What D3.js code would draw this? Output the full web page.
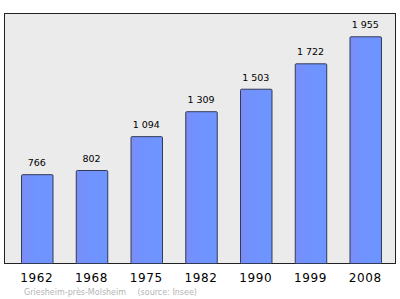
<!DOCTYPE html>
<html>
<head>
<meta charset="utf-8">
<script src="https://cdn.jsdelivr.net/npm/d3@7"></script>
<style>
  body { margin: 0; background: #fff; }
  text { font-family: "DejaVu Sans", sans-serif; }
</style>
</head>
<body>
<script>
const W = 400
const H = 299

// data
const years = ["1962", "1968", "1975", "1982", "1990", "1999", "2008"]
const population = [766, 802, 1094, 1309, 1503, 1722, 1955]
const valueLabels = ["766", "802", "1 094", "1 309", "1 503", "1 722", "1 955"]
const caption = "Griesheim-près-Molsheim"
const source = "(source: Insee)"

const plot = { left: 4, top: 13, right: 395, bottom: 263 }

var svg = d3.select("body").append("svg")
            .attr("width", W)
            .attr("height", H)

var defs = svg.append("defs")
var grad = defs.append("linearGradient").attr("id", "barFill")
              .attr("x1", "0%").attr("x2", "100%").attr("y1", "0%").attr("y2", "0%")
grad.append("stop").attr("offset", "0%").attr("stop-color", "#7b8cf6")
grad.append("stop").attr("offset", "35%").attr("stop-color", "#7092ff")
grad.append("stop").attr("offset", "100%").attr("stop-color", "#6e95ff")

var x = d3.scaleBand()
          .domain(years)
          .range([4.6, 397.4])
          .paddingInner(0.425)
          .paddingOuter(0.3)

var y = d3.scaleLinear()
          .domain([0, 2156])
          .range([plot.bottom, plot.top])

// plot frame
svg.append("rect")
   .attr("x", plot.left + 0.5)
   .attr("y", plot.top + 0.5)
   .attr("width", plot.right - plot.left)
   .attr("height", plot.bottom - plot.top)
   .attr("fill", "#ebebeb")
   .attr("stroke", "#222")
   .attr("stroke-width", 1)

svg.selectAll("rect.bar")
   .data(population)
   .enter().append("rect")
   .attr("class", "bar")
   .attr("x", (d, i) => x(years[i]) + 0.5)
   .attr("y", d => y(d) + 0.5)
   .attr("width", x.bandwidth())
   .attr("height", d => y(0) - y(d))
   .attr("rx", 1)
   .attr("fill", "url(#barFill)")
   .attr("stroke", "#333a55")
   .attr("stroke-width", 1)

svg.selectAll("text.val")
   .data(population)
   .enter().append("text")
   .attr("class", "val")
   .attr("x", (d, i) => x(years[i]) + x.bandwidth() / 2)
   .attr("y", d => y(d) - 8)
   .attr("text-anchor", "middle")
   .attr("font-size", "9.5px")
   .attr("fill", "#000")
   .text((d, i) => valueLabels[i])

// x axis labels only (no line/ticks)
var xAxis = d3.axisBottom(x).tickSize(0).tickPadding(10)
var gx = svg.append("g")
            .attr("transform", "translate(0," + plot.bottom + ")")
            .call(xAxis)
gx.select(".domain").remove()
gx.selectAll("text")
  .attr("font-family", "DejaVu Sans, sans-serif")
  .attr("font-size", "12px")
  .attr("letter-spacing", "0.6px")
  .attr("fill", "#000")

svg.append("text")
   .attr("x", 24)
   .attr("y", 295)
   .attr("font-size", "8px")
   .attr("fill", "#b4b4b4")
   .text(caption)

svg.append("text")
   .attr("x", 137.5)
   .attr("y", 295)
   .attr("font-size", "8px")
   .attr("fill", "#b4b4b4")
   .text(source)
</script>
</body>
</html>
